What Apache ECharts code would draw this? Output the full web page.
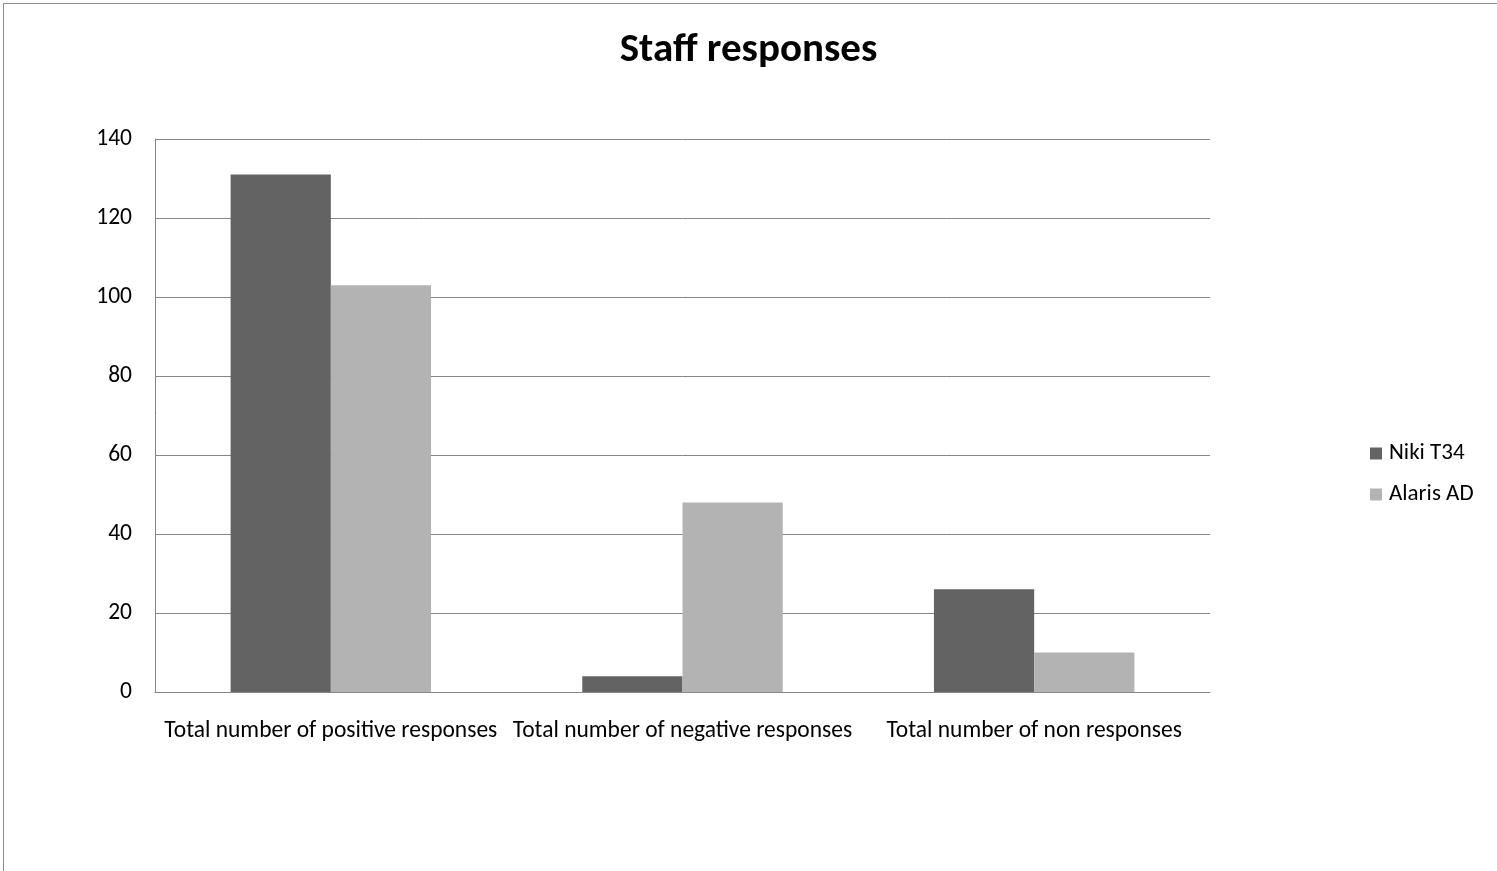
<!DOCTYPE html>
<html><head><meta charset="utf-8">
<script src="https://cdn.jsdelivr.net/npm/echarts@6/dist/echarts.min.js"></script>
<style>
html,body{margin:0;padding:0;background:#fff;overflow:hidden}
#frame{position:absolute;left:3px;top:3px;width:1600px;height:1000px;border-top:1px solid #8c8c8c;border-left:1px solid #8c8c8c;box-sizing:border-box}
#chart{position:absolute;left:0;top:0;width:1497px;height:871px}
</style></head>
<body>
<div id="frame"></div>
<div id="chart"></div>
<script>
const categories = ['Total number of positive responses', 'Total number of negative responses', 'Total number of non responses'];
const seriesNames = ['Niki T34', 'Alaris AD'];
const nikiValues = [131, 4, 26];
const alarisValues = [103, 48, 10];

const chart = echarts.init(document.getElementById('chart'));
const font = 'Carlito, "Open Sans", "Liberation Sans", sans-serif';
chart.setOption({
  backgroundColor: 'transparent',
  animation: false,
  title: {
    text: 'Staff responses', left: 'center', top: 25,
    textStyle: { fontFamily: font, fontSize: 41, fontWeight: 'bold', color: '#000' }
  },
  legend: {
    orient: 'vertical', left: 1370, top: 442, padding: 0, itemWidth: 12, itemHeight: 12, itemGap: 18,
    icon: 'rect',
    textStyle: { fontFamily: font, fontSize: 23, color: '#000', padding: [0, 0, 0, 2] },
    data: seriesNames
  },
  grid: { left: 155, right: 287, top: 139, bottom: 179, containLabel: false },
  xAxis: {
    type: 'category', data: categories,
    axisLine: { lineStyle: { color: '#868686' } },
    axisTick: { show: false },
    axisLabel: { fontFamily: font, fontSize: 23.5, color: '#000', margin: 27, interval: 0 }
  },
  yAxis: {
    type: 'value', min: 0, max: 140, interval: 20,
    axisLine: { show: true, lineStyle: { color: '#868686' } },
    axisTick: { show: false },
    splitLine: { lineStyle: { color: '#868686' } },
    axisLabel: { fontFamily: font, fontSize: 23.5, color: '#000', margin: 23 }
  },
  series: [
    { name: seriesNames[0], type: 'bar', data: nikiValues, barGap: '0%', barCategoryGap: '43%', itemStyle: { color: '#636363' } },
    { name: seriesNames[1], type: 'bar', data: alarisValues, itemStyle: { color: '#b3b3b3' } }
  ]
});
</script>
</body></html>
